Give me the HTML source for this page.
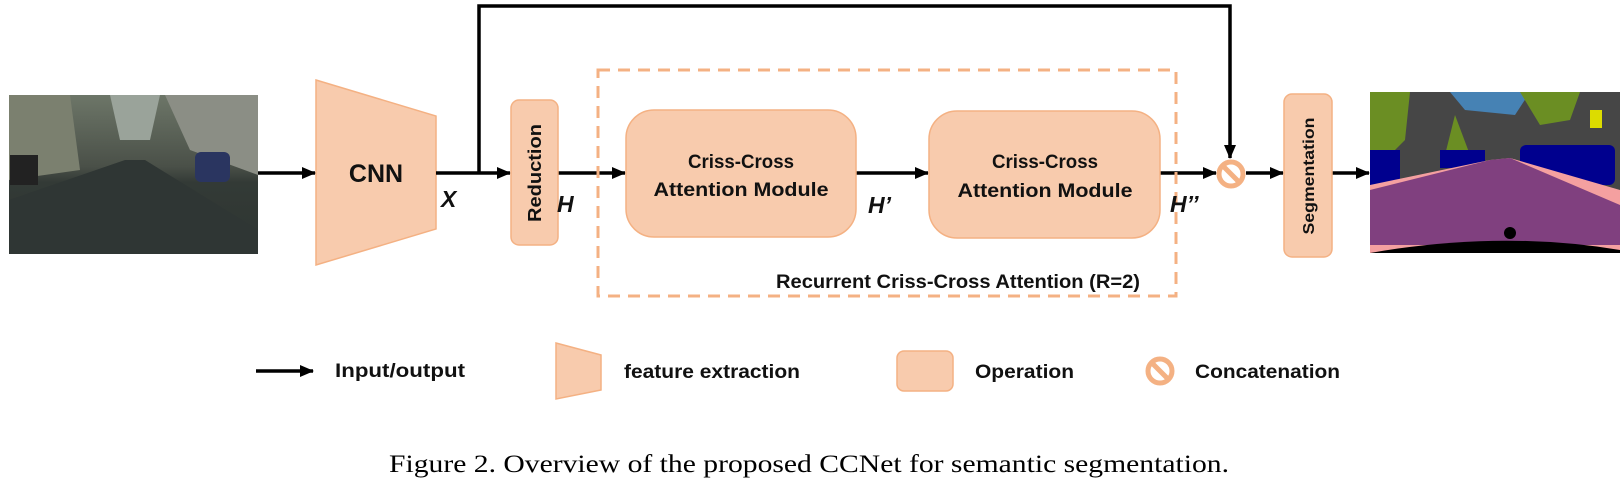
<!DOCTYPE html>
<html><head><meta charset="utf-8"><style>
html,body{margin:0;padding:0;background:#fff;}
svg{display:block;}
.b{font-family:"Liberation Sans",sans-serif;font-weight:bold;fill:#111;}
</style></head><body>
<svg width="1623" height="481" viewBox="0 0 1623 481" xmlns="http://www.w3.org/2000/svg">
<defs>
<marker id="ah" markerWidth="14" markerHeight="14" refX="13" refY="7" orient="auto" markerUnits="userSpaceOnUse">
<path d="M0,1 L14,7 L0,13 z" fill="#000"/></marker>
<linearGradient id="sky" x1="0" y1="0" x2="0" y2="1"><stop offset="0" stop-color="#6d7668"/><stop offset="0.45" stop-color="#4a5048"/><stop offset="0.55" stop-color="#333a36"/><stop offset="1" stop-color="#2e3532"/></linearGradient>
</defs>
<!-- input photo -->
<rect x="9" y="95" width="249" height="159" fill="url(#sky)"/>
<polygon points="110,95 160,95 150,140 120,140" fill="#9aa39a"/>
<polygon points="9,95 70,95 80,170 9,180" fill="#7b806f"/>
<polygon points="165,95 258,95 258,175 190,150" fill="#8b8e85"/>
<polygon points="9,200 125,160 145,160 258,230 258,254 9,254" fill="#2f3634"/>
<rect x="195" y="152" width="35" height="30" rx="6" fill="#2a3560"/>
<rect x="10" y="155" width="28" height="30" fill="#222"/>
<!-- CNN -->
<polygon points="316,80 436,116 436,229 316,265" fill="#f8cbad" stroke="#f4b183" stroke-width="1.5"/>
<text x="376" y="182" class="b" font-size="25" text-anchor="middle">CNN</text>
<!-- connectors -->
<g stroke="#000" stroke-width="3.5" fill="none">
<line x1="258" y1="173" x2="315" y2="173" marker-end="url(#ah)"/>
<line x1="436" y1="173" x2="510" y2="173" marker-end="url(#ah)"/>
<polyline points="479,173 479,6 1230,6 1230,158" marker-end="url(#ah)"/>
<line x1="558" y1="173" x2="625" y2="173" marker-end="url(#ah)"/>
<line x1="856" y1="173" x2="928" y2="173" marker-end="url(#ah)"/>
<line x1="1160" y1="173" x2="1216" y2="173" marker-end="url(#ah)"/>
<line x1="1246" y1="173" x2="1283" y2="173" marker-end="url(#ah)"/>
<line x1="1332" y1="173" x2="1369" y2="173" marker-end="url(#ah)"/>
<line x1="256" y1="371" x2="313" y2="371" marker-end="url(#ah)"/>
</g>
<!-- dashed box -->
<rect x="598" y="70" width="578" height="226" fill="none" stroke="#f4b183" stroke-width="3" stroke-dasharray="12,8"/>
<!-- Reduction -->
<rect x="511" y="100" width="47" height="145" rx="8" fill="#f8cbad" stroke="#f4b183" stroke-width="1.5"/>
<text transform="translate(541,173) rotate(-90)" class="b" font-size="18" text-anchor="middle" textLength="98" lengthAdjust="spacingAndGlyphs">Reduction</text>
<!-- CC modules -->
<rect x="626" y="110" width="230" height="127" rx="28" fill="#f8cbad" stroke="#f4b183" stroke-width="1.5"/>
<text x="741" y="168" class="b" font-size="19" text-anchor="middle" textLength="106" lengthAdjust="spacingAndGlyphs">Criss-Cross</text>
<text x="741" y="196" class="b" font-size="19" text-anchor="middle" textLength="175" lengthAdjust="spacingAndGlyphs">Attention Module</text>
<rect x="929" y="111" width="231" height="127" rx="28" fill="#f8cbad" stroke="#f4b183" stroke-width="1.5"/>
<text x="1045" y="168" class="b" font-size="19" text-anchor="middle" textLength="106" lengthAdjust="spacingAndGlyphs">Criss-Cross</text>
<text x="1045" y="197" class="b" font-size="19" text-anchor="middle" textLength="175" lengthAdjust="spacingAndGlyphs">Attention Module</text>
<text x="776" y="288" class="b" font-size="19" textLength="364" lengthAdjust="spacingAndGlyphs">Recurrent Criss-Cross Attention (R=2)</text>
<!-- labels -->
<g class="b" font-size="23" font-style="italic">
<text x="441" y="207">X</text>
<text x="557" y="212">H</text>
<text x="868" y="213">H’</text>
<text x="1170" y="212">H’’</text>
</g>
<!-- concat -->
<circle cx="1231" cy="174" r="12" fill="#fff" stroke="#f4b183" stroke-width="5"/>
<line x1="1223" y1="166" x2="1239" y2="182" stroke="#f4b183" stroke-width="5"/>
<!-- Segmentation -->
<rect x="1284" y="94" width="48" height="163" rx="8" fill="#f8cbad" stroke="#f4b183" stroke-width="1.5"/>
<text transform="translate(1314,176) rotate(-90)" class="b" font-size="16" text-anchor="middle" textLength="117" lengthAdjust="spacingAndGlyphs">Segmentation</text>
<!-- seg image -->
<rect x="1370" y="92" width="250" height="161" fill="#464646"/>
<polygon points="1450,92 1530,92 1515,115 1465,110" fill="#4682b4"/>
<polygon points="1370,92 1410,92 1405,140 1385,160 1370,150" fill="#6b8e23"/>
<polygon points="1520,92 1580,92 1570,120 1540,125" fill="#6b8e23"/>
<polygon points="1455,115 1470,155 1445,155" fill="#6b8e23"/>
<rect x="1370" y="150" width="30" height="35" fill="#00008e"/>
<rect x="1440" y="150" width="45" height="18" fill="#00008e"/>
<rect x="1520" y="145" width="95" height="40" rx="6" fill="#00008e"/>
<polygon points="1370,185 1490,160 1510,158 1620,190 1620,253 1370,253" fill="#f4a0a0"/>
<polygon points="1370,190 1490,160 1510,158 1620,205 1620,245 1370,245" fill="#80407f"/>
<path d="M1370,253 Q1500,230 1620,250 L1620,253 Z" fill="#000"/>
<circle cx="1510" cy="233" r="6" fill="#000"/>
<rect x="1590" y="110" width="12" height="18" fill="#dcdc00"/>
<!-- legend -->
<text x="335" y="377" class="b" font-size="19" textLength="130" lengthAdjust="spacingAndGlyphs">Input/output</text>
<polygon points="556,343 601,355 601,390 556,399" fill="#f8cbad" stroke="#f4b183" stroke-width="1.5"/>
<text x="624" y="378" class="b" font-size="19" textLength="176" lengthAdjust="spacingAndGlyphs">feature extraction</text>
<rect x="897" y="351" width="56" height="40" rx="7" fill="#f8cbad" stroke="#f4b183" stroke-width="1.5"/>
<text x="975" y="378" class="b" font-size="19" textLength="99" lengthAdjust="spacingAndGlyphs">Operation</text>
<circle cx="1160" cy="371" r="12" fill="#fff" stroke="#f4b183" stroke-width="5"/>
<line x1="1152" y1="363" x2="1168" y2="379" stroke="#f4b183" stroke-width="5"/>
<text x="1195" y="378" class="b" font-size="19" textLength="145" lengthAdjust="spacingAndGlyphs">Concatenation</text>
<text x="389" y="472" font-family="Liberation Serif,serif" font-size="25" fill="#000" textLength="840" lengthAdjust="spacingAndGlyphs">Figure 2. Overview of the proposed CCNet for semantic segmentation.</text>
</svg>
</body></html>
